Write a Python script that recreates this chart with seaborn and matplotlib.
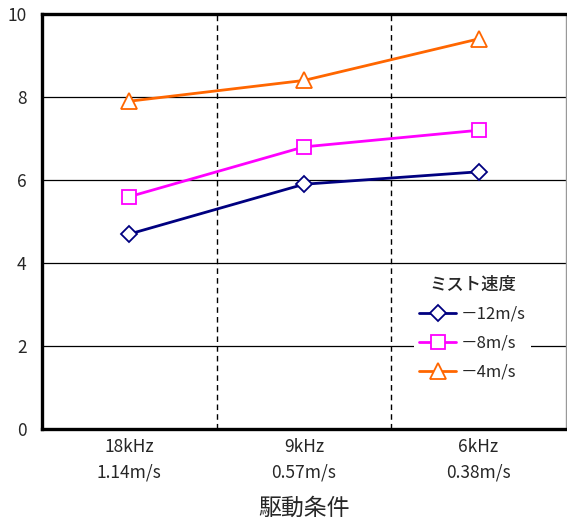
import matplotlib

matplotlib.use("Agg")
import matplotlib.pyplot as plt
import pandas as pd
import seaborn as sns

conditions = ["18kHz\n1.14m/s", "9kHz\n0.57m/s", "6kHz\n0.38m/s"]
series_labels = ["－12m/s", "－8m/s", "－4m/s"]
speed_12 = [4.7, 5.9, 6.2]
speed_8 = [5.6, 6.8, 7.2]
speed_4 = [7.9, 8.4, 9.4]
y_ticks = [0, 2, 4, 6, 8, 10]

colors = ["#000080", "#FF00FF", "#FF6600"]
markers = ["D", "s", "^"]
marker_sizes = [8.5, 10, 11.5]

sns.set_theme(style="white")
plt.rcParams["font.family"] = ["Noto Sans CJK JP", "DejaVu Sans"]
plt.rcParams["axes.unicode_minus"] = False

fig = plt.figure(figsize=(5.67, 5.19), dpi=100)
ax = fig.add_axes([0.074, 0.173, 0.924, 0.800])

for label, values, color, marker, ms in zip(
    series_labels, [speed_12, speed_8, speed_4], colors, markers, marker_sizes
):
    df = pd.DataFrame({"x": range(len(conditions)), "y": values})
    sns.lineplot(
        data=df, x="x", y="y", ax=ax, color=color, linewidth=2.0,
        marker=marker, markersize=ms, markerfacecolor="white",
        markeredgecolor=color, markeredgewidth=1.3, label=label, zorder=3,
    )

ax.set_xlim(-0.5, len(conditions) - 0.5)
ax.set_ylim(0, 10)
ax.set_yticks(y_ticks)
ax.set_yticklabels([str(v) for v in y_ticks], fontsize=12.5)
ax.tick_params(axis="y", length=0, pad=11)

ax.set_xticks(range(len(conditions)))
ax.set_xticklabels(conditions, fontsize=12.5, linespacing=1.55)
ax.tick_params(axis="x", which="major", length=0, pad=6)
ax.set_xticks([0.5, 1.5], minor=True)
ax.tick_params(axis="x", which="minor", direction="in", length=5, width=1, color="black")

for y in y_ticks[1:-1]:
    ax.axhline(y, color="black", linewidth=0.9, zorder=1)
for x in [0.5, 1.5]:
    ax.axvline(x, color="black", linewidth=1.0, linestyle=(0, (4, 3)), zorder=1)

for side in ["left", "bottom", "top"]:
    ax.spines[side].set_color("black")
    ax.spines[side].set_linewidth(2.4)
ax.spines["right"].set_color("#999999")
ax.spines["right"].set_linewidth(1.0)

ax.set_xlabel("駆動条件", fontsize=16.5, labelpad=11)
ax.set_ylabel("")

leg = ax.legend(
    title="ミスト速度", loc="center left", bbox_to_anchor=(0.695, 0.243),
    frameon=True, facecolor="white", edgecolor="none", framealpha=1,
    fontsize=12, title_fontsize=12.5, handlelength=2.2, labelspacing=0.72,
    borderpad=0.3, handletextpad=0.3,
)
leg.get_title().set_fontweight("medium")
leg.set_zorder(5)

fig.savefig("out.png", dpi=100)
